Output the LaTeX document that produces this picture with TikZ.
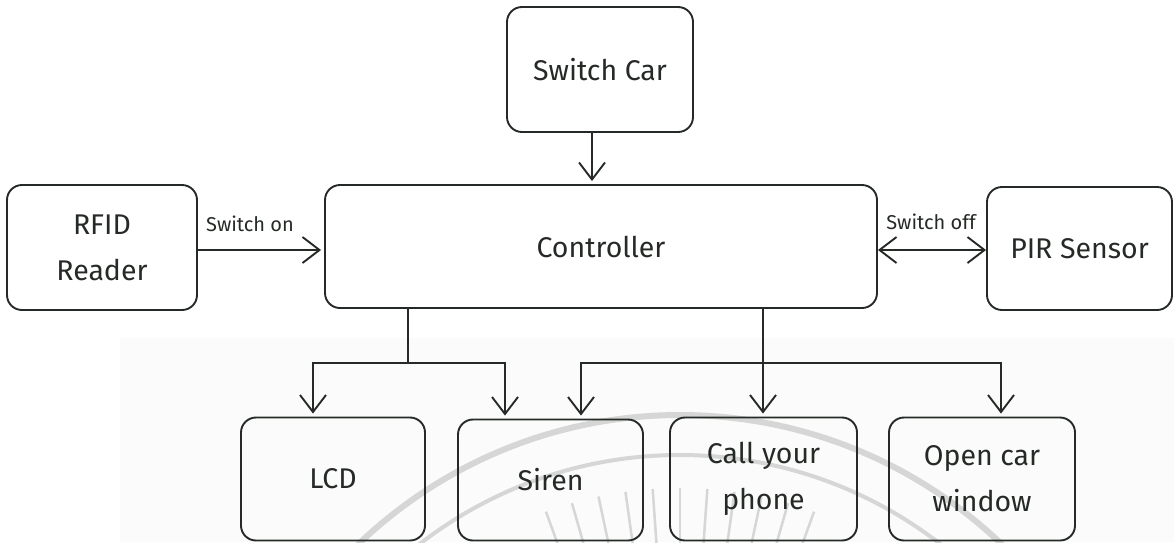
\documentclass[tikz,border=0pt]{standalone}
\usepackage{fontspec}
\newfontfamily\boxfont{Fira Sans}
\usetikzlibrary{arrows.meta}
\definecolor{ink}{RGB}{38,42,38}
\definecolor{wmark}{RGB}{214,214,214}
\tikzset{
  blk/.style={draw=ink, line width=1.9pt, rounded corners=15pt, align=center,
              text=ink, inner sep=0pt,
              font=\boxfont\fontsize{28.5}{46}\selectfont},
  lbl/.style={text=ink, inner sep=0pt, font=\boxfont\fontsize{20}{22}\selectfont},
  wire/.style={draw=ink, line width=1.9pt},
  arr/.style={wire, -{Straight Barb[length=17pt,width=26pt,line width=1.9pt]}, shorten >=3pt},
  dblarr/.style={wire, {Straight Barb[length=17pt,width=26pt,line width=1.9pt]}-{Straight Barb[length=17pt,width=26pt,line width=1.9pt]}},
  wm/.style={draw=wmark, line width=6pt},
  wmray/.style={draw=wmark, line width=2.5pt}
}
\begin{document}
\begin{tikzpicture}[x=1pt,y=-1pt]
\useasboundingbox (0,0) rectangle (1174,542);
\fill[black!1.5] (120,338) rectangle (1174,542);

% faint seal in the lower part of the page
\begin{scope}
  \clip (0,0) rectangle (1174,542);
  \coordinate (seal) at (680,880);
  \draw[wm] (seal) circle[radius=465pt];
  \draw[wm, line width=4pt] (seal) circle[radius=425pt];
  \foreach \a in {70,74,...,112}
    \draw[wmray] ([shift={(\a:335pt)}]seal) -- ([shift={(\a:392pt)}]seal);
\end{scope}

% blocks
\node[blk, minimum width=186pt, minimum height=125pt] (car)   at (600,69.5)   {Switch Car};
\node[blk, minimum width=552pt, minimum height=123pt] (ctrl)  at (601,246.5)  {Controller};
\node[blk, minimum width=190pt, minimum height=125pt] (rfid)  at (102,247.5)  {RFID\\Reader};
\node[blk, minimum width=185pt, minimum height=123pt] (pir)   at (1079.5,248.5) {PIR Sensor};
\node[blk, minimum width=184pt, minimum height=123pt] (lcd)   at (333,479)    {LCD};
\node[blk, minimum width=185pt, minimum height=121pt] (siren) at (550.5,480)  {Siren};
\node[blk, minimum width=187pt, minimum height=123pt] (call)  at (763.5,479)  {Call your\\phone};
\node[blk, minimum width=186pt, minimum height=123pt] (open)  at (982,479)    {Open car\\window};

% connector labels
\node[lbl] (lon)  at (250,224) {Switch on};
\node[lbl] (loff) at (931,222) {Switch off};

% inputs to the controller
\draw[arr] ([xshift=-8pt]car.south) -- ([xshift=-8pt]car.south |- ctrl.north);
\draw[arr] ([yshift=-2.5pt]rfid.east) -- ([yshift=-2.5pt]rfid.east -| ctrl.west);
\draw[dblarr] ([yshift=-3.5pt]ctrl.east) -- ([yshift=-3.5pt]ctrl.east -| pir.west);

% outputs of the controller
\coordinate (j1) at (408,363);
\coordinate (j2) at (763,363);
\draw[wire] (ctrl.south -| j1) -- (j1);
\draw[arr] (j1) -| ([xshift=-20pt]lcd.north);
\draw[arr] (j1) -| ([xshift=-45.5pt]siren.north);
\draw[arr] (ctrl.south -| j2) -- (j2 |- call.north);
\draw[arr] (j2) -| ([xshift=30.5pt]siren.north);
\draw[arr] (j2) -| ([xshift=19pt]open.north);
\end{tikzpicture}
\end{document}
